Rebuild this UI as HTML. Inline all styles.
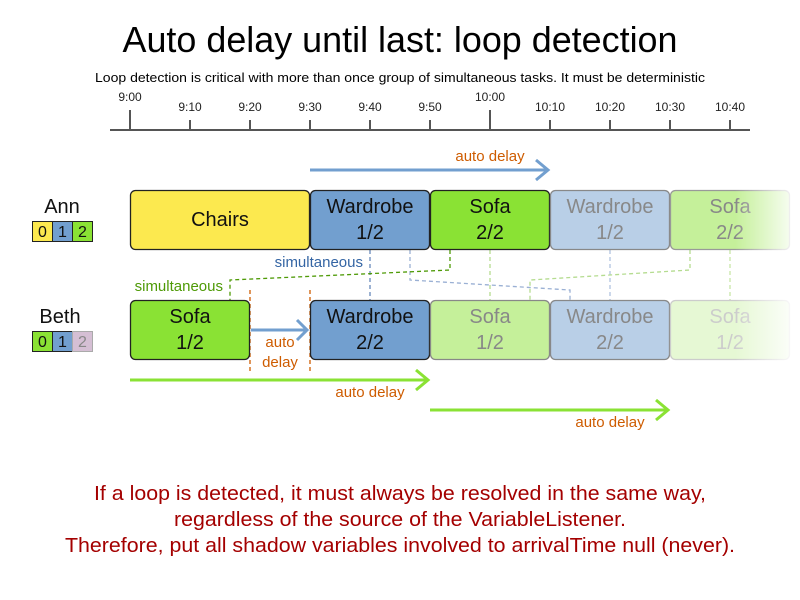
<!DOCTYPE html>
<html><head><meta charset="utf-8"><style>body{margin:0;background:#fff}svg{display:block}</style></head>
<body>
<svg width="800" height="600" xmlns="http://www.w3.org/2000/svg">
<defs>
<linearGradient id="fade" x1="0" x2="1" y1="0" y2="0">
<stop offset="0" stop-color="#fff" stop-opacity="0"/><stop offset="1" stop-color="#fff" stop-opacity="1"/>
</linearGradient>
</defs>
<text x="400" y="52" font-family="Liberation Sans, sans-serif" font-size="36" text-anchor="middle" textLength="555" lengthAdjust="spacingAndGlyphs">Auto delay until last: loop detection</text>
<text x="400" y="82" font-family="Liberation Sans, sans-serif" font-size="13" text-anchor="middle" textLength="610" lengthAdjust="spacingAndGlyphs">Loop detection is critical with more than once group of simultaneous tasks. It must be deterministic</text>
<g stroke="#555" stroke-width="2">
<line x1="110" y1="130" x2="750" y2="130"/>
<line x1="130" y1="110" x2="130" y2="130"/><line x1="490" y1="110" x2="490" y2="130"/>
<line x1="190" y1="120" x2="190" y2="130"/><line x1="250" y1="120" x2="250" y2="130"/><line x1="310" y1="120" x2="310" y2="130"/><line x1="370" y1="120" x2="370" y2="130"/><line x1="430" y1="120" x2="430" y2="130"/><line x1="550" y1="120" x2="550" y2="130"/><line x1="610" y1="120" x2="610" y2="130"/><line x1="670" y1="120" x2="670" y2="130"/><line x1="730" y1="120" x2="730" y2="130"/>
</g>
<g font-family="Liberation Sans, sans-serif" font-size="12" text-anchor="middle" fill="#222">
<text x="130" y="101">9:00</text><text x="490" y="101">10:00</text>
<text x="190" y="111">9:10</text><text x="250" y="111">9:20</text><text x="310" y="111">9:30</text><text x="370" y="111">9:40</text><text x="430" y="111">9:50</text><text x="550" y="111">10:10</text><text x="610" y="111">10:20</text><text x="670" y="111">10:30</text><text x="730" y="111">10:40</text>
</g>
<g stroke="#729fcf" stroke-width="3" fill="none"><line x1="310" y1="170" x2="548" y2="170"/><polyline points="536,160 548,170 536,180"/></g>
<text x="490" y="161" font-family="Liberation Sans, sans-serif" font-size="15" fill="#ce5c00" text-anchor="middle">auto delay</text>
<g fill="none" stroke-dasharray="4,3" stroke-width="1.3">
<polyline stroke="#6688bb" points="370,250 370,300"/>
<polyline stroke="#9ab0d4" points="410,250 410,280 570,290 570,300"/>
<polyline stroke="#4e9a06" points="450,250 450,270 230,280 230,300"/>
<polyline stroke="#b5dc90" points="490,250 490,300"/>
<polyline stroke="#b0c4e0" points="610,250 610,300"/>
<polyline stroke="#b5dc90" points="690,250 690,270 530,280 530,300"/>
<polyline stroke="#c8e6a8" points="730,250 730,300"/>
<line stroke="#ce5c00" x1="250" y1="290" x2="250" y2="372"/>
<line stroke="#ce5c00" x1="310" y1="290" x2="310" y2="372"/>
</g>
<text x="363" y="267" font-family="Liberation Sans, sans-serif" font-size="15" fill="#3465a4" text-anchor="end">simultaneous</text>
<text x="223" y="291" font-family="Liberation Sans, sans-serif" font-size="15" fill="#4e9a06" text-anchor="end">simultaneous</text>
<g stroke-width="1.3" font-family="Liberation Sans, sans-serif" font-size="20" text-anchor="middle">
<rect x="130.5" y="190.5" width="179" height="59" rx="5" fill="#fce94f" stroke="#222"/>
<text x="220" y="226" fill="#111">Chairs</text>
<rect x="310.5" y="190.5" width="119" height="59" rx="5" fill="#729fcf" stroke="#222"/>
<text x="370" y="213" fill="#111">Wardrobe</text><text x="370" y="239" fill="#111">1/2</text>
<rect x="430.5" y="190.5" width="119" height="59" rx="5" fill="#8ae234" stroke="#222"/>
<text x="490" y="213" fill="#111">Sofa</text><text x="490" y="239" fill="#111">2/2</text>
<rect x="550.5" y="190.5" width="119" height="59" rx="5" fill="#b9cfe7" stroke="#888"/>
<text x="610" y="213" fill="#888">Wardrobe</text><text x="610" y="239" fill="#888">1/2</text>
<rect x="670.5" y="190.5" width="119" height="59" rx="5" fill="#c5f09a" stroke="#999"/>
<text x="730" y="213" fill="#888">Sofa</text><text x="730" y="239" fill="#888">2/2</text>
<rect x="130.5" y="300.5" width="119" height="59" rx="5" fill="#8ae234" stroke="#222"/>
<text x="190" y="323" fill="#111">Sofa</text><text x="190" y="349" fill="#111">1/2</text>
<rect x="310.5" y="300.5" width="119" height="59" rx="5" fill="#729fcf" stroke="#222"/>
<text x="370" y="323" fill="#111">Wardrobe</text><text x="370" y="349" fill="#111">2/2</text>
<rect x="430.5" y="300.5" width="119" height="59" rx="5" fill="#c5f09a" stroke="#888"/>
<text x="490" y="323" fill="#888">Sofa</text><text x="490" y="349" fill="#888">1/2</text>
<rect x="550.5" y="300.5" width="119" height="59" rx="5" fill="#b9cfe7" stroke="#888"/>
<text x="610" y="323" fill="#888">Wardrobe</text><text x="610" y="349" fill="#888">2/2</text>
<rect x="670.5" y="300.5" width="119" height="59" rx="5" fill="#e6f8d4" stroke="#ccc"/>
<text x="730" y="323" fill="#ccc">Sofa</text><text x="730" y="349" fill="#ccc">1/2</text>
</g>
<rect x="735" y="185" width="65" height="180" fill="url(#fade)"/>
<g font-family="Liberation Sans, sans-serif" font-size="20" text-anchor="middle" fill="#111">
<text x="62" y="213">Ann</text><text x="60" y="323">Beth</text>
</g>
<g font-family="Liberation Sans, sans-serif" font-size="16" text-anchor="middle" stroke-width="1">
<rect x="32.5" y="221.5" width="20" height="20" fill="#fce94f" stroke="#222"/><text x="42.5" y="237" fill="#111">0</text>
<rect x="52.5" y="221.5" width="20" height="20" fill="#729fcf" stroke="#222"/><text x="62.5" y="237" fill="#111">1</text>
<rect x="72.5" y="221.5" width="20" height="20" fill="#8ae234" stroke="#222"/><text x="82.5" y="237" fill="#111">2</text>
<rect x="32.5" y="331.5" width="20" height="20" fill="#8ae234" stroke="#222"/><text x="42.5" y="347" fill="#111">0</text>
<rect x="52.5" y="331.5" width="20" height="20" fill="#729fcf" stroke="#222"/><text x="62.5" y="347" fill="#111">1</text>
<rect x="72.5" y="331.5" width="20" height="20" fill="#d5bfd4" stroke="#aaa"/><text x="82.5" y="347" fill="#888">2</text>
</g>
<g stroke="#729fcf" stroke-width="3" fill="none"><line x1="251" y1="330" x2="307" y2="330"/><polyline points="297,320 307,330 297,340"/></g>
<text x="280" y="347" font-family="Liberation Sans, sans-serif" font-size="15" fill="#ce5c00" text-anchor="middle">auto</text>
<text x="280" y="367" font-family="Liberation Sans, sans-serif" font-size="15" fill="#ce5c00" text-anchor="middle">delay</text>
<g stroke="#8ae234" stroke-width="3" fill="none">
<line x1="130" y1="380" x2="428" y2="380"/><polyline points="416,370 428,380 416,390"/>
<line x1="430" y1="410" x2="668" y2="410"/><polyline points="656,400 668,410 656,420"/>
</g>
<text x="370" y="397" font-family="Liberation Sans, sans-serif" font-size="15" fill="#ce5c00" text-anchor="middle">auto delay</text>
<text x="610" y="427" font-family="Liberation Sans, sans-serif" font-size="15" fill="#ce5c00" text-anchor="middle">auto delay</text>
<g font-family="Liberation Sans, sans-serif" font-size="20" fill="#a40000" text-anchor="middle">
<text x="400" y="500" textLength="612" lengthAdjust="spacingAndGlyphs">If a loop is detected, it must always be resolved in the same way,</text>
<text x="400" y="526" textLength="452" lengthAdjust="spacingAndGlyphs">regardless of the source of the VariableListener.</text>
<text x="400" y="552" textLength="670" lengthAdjust="spacingAndGlyphs">Therefore, put all shadow variables involved to arrivalTime null (never).</text>
</g>
</svg>
</body></html>
